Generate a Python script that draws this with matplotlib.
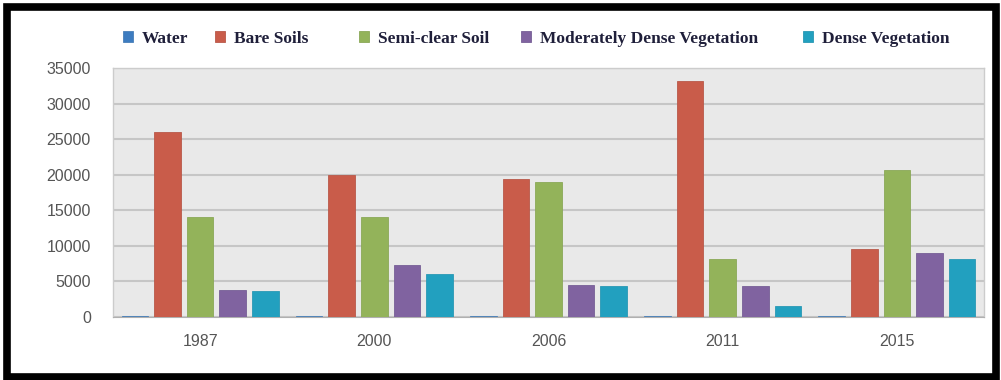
import matplotlib
matplotlib.use("Agg")
import matplotlib.pyplot as plt
import numpy as np
from matplotlib.patches import Rectangle

years = ["1987", "2000", "2006", "2011", "2015"]
series_names = ["Water", "Bare Soils", "Semi-clear Soil",
                "Moderately Dense Vegetation", "Dense Vegetation"]
water = [150, 150, 150, 150, 150]
bare_soils = [26000, 19900, 19400, 33200, 9500]
semi_clear_soil = [14000, 14000, 19000, 8100, 20650]
moderately_dense = [3800, 7300, 4500, 4350, 8950]
dense_vegetation = [3650, 6000, 4350, 1600, 8100]
yticks = [0, 5000, 10000, 15000, 20000, 25000, 30000, 35000]

colors = ["#3d7cc0", "#c95c4a", "#93b35a", "#8063a0", "#22a0bf"]
edges = ["#4a80b8", "#b8594a", "#8aa858", "#775f96", "#2a98b4"]

fig = plt.figure(figsize=(10.01, 3.8), dpi=100)
ax = fig.add_axes([113/1001, 63/380, (984-113)/1001, (317-68)/380])
ax.set_facecolor("#e9e9e9")

x = np.arange(len(years))
step = 0.187
width = 0.153
all_series = [water, bare_soils, semi_clear_soil, moderately_dense, dense_vegetation]
handles = []
for i, (name, vals) in enumerate(zip(series_names, all_series)):
    b = ax.bar(x + (i - 2) * step, vals, width, color=colors[i],
               edgecolor=edges[i], linewidth=0.6, label=name, zorder=3)
    handles.append(b)

ax.set_xlim(-0.5, 4.5)
ax.set_ylim(0, 35000)
ax.set_yticks(yticks)
ax.set_yticklabels([str(v) for v in yticks])
ax.set_xticks(x)
ax.set_xticklabels(years)
ax.yaxis.grid(True, color="#c6c6c6", linewidth=1.5, zorder=0)
ax.set_axisbelow(True)
for s in ["left", "top", "right"]:
    ax.spines[s].set_color("#cccccc")
    ax.spines[s].set_linewidth(1.0)
ax.spines["bottom"].set_color("#b0b0b0")
ax.tick_params(axis="both", length=0, labelsize=11.5, colors="#555555",
               labelfontfamily="Liberation Sans")
ax.tick_params(axis="y", pad=16)
ax.tick_params(axis="x", pad=12)

# legend entries placed individually like the original
marker_left_px = [123, 215, 359, 521, 803]
for h, name, px in zip(handles, series_names, marker_left_px):
    leg = fig.legend(handles=[h], labels=[name], loc="center left",
                     bbox_to_anchor=(px/1001, 1 - 39/380), frameon=False,
                     borderpad=0, borderaxespad=0,
                     prop={"family": "Liberation Serif", "weight": "bold", "size": 12.5},
                     handlelength=0.6, handleheight=0.6, handletextpad=0.5)
    for t in leg.get_texts():
        t.set_color("#1f1f3a")

# outer border
fig.patches.append(Rectangle((7/1001, 3/380), (996-7)/1001, (373-3)/380,
                             transform=fig.transFigure, fill=False,
                             edgecolor="black", linewidth=5.5))

fig.savefig("out.png", dpi=100)
